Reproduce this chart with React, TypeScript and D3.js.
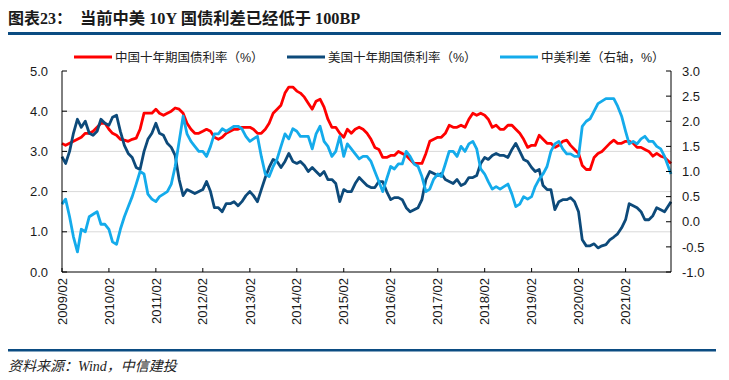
import React from "react";
import * as d3 from "d3";

// Monthly observations, 2009-02 … 2022-01 (last point ≈ 2022-01-20)
const START_YEAR = 2009;
const START_MONTH = 1; // February (0-based)
const END_DATE = new Date(2022, 0, 20);

const cn10y = [
  3.2, 3.15, 3.2, 3.25, 3.3, 3.35, 3.45, 3.45, 3.5, 3.6, 3.7,
  3.7, 3.55, 3.45, 3.4, 3.3, 3.28, 3.25, 3.3, 3.33, 3.55, 3.95, 3.95,
  3.95, 4.05, 3.95, 3.9, 3.95, 4.0, 4.08, 4.05, 3.95, 3.7, 3.55, 3.45,
  3.45, 3.5, 3.55, 3.5, 3.35, 3.3, 3.35, 3.45, 3.5, 3.55, 3.55, 3.6,
  3.6, 3.6, 3.55, 3.45, 3.45, 3.55, 3.7, 3.95, 4.05, 4.15, 4.45, 4.6,
  4.6, 4.5, 4.45, 4.35, 4.2, 4.05, 4.25, 4.3, 4.1, 3.8, 3.6, 3.6,
  3.45, 3.35, 3.55, 3.45, 3.55, 3.6, 3.55, 3.45, 3.3, 3.1, 3.05, 2.85,
  2.85, 2.9, 2.9, 3.0, 2.95, 2.9, 2.8, 2.7, 2.7, 2.7, 2.95, 3.25,
  3.3, 3.35, 3.35, 3.45, 3.65, 3.6, 3.6, 3.65, 3.6, 3.8, 3.95, 3.9,
  3.95, 3.9, 3.8, 3.6, 3.65, 3.55, 3.55, 3.65, 3.65, 3.55, 3.45, 3.3,
  3.1, 3.15, 3.15, 3.4, 3.3, 3.2, 3.2, 3.1, 3.15, 3.25, 3.28, 3.15,
  3.05, 2.95, 2.65, 2.55, 2.55, 2.85, 2.95, 3.0, 3.1, 3.2, 3.28, 3.2,
  3.2, 3.25, 3.25, 3.2, 3.1, 3.1, 3.05, 3.0, 2.88, 2.95, 2.88, 2.85,
  2.7,
];

const us10y = [
  2.87, 2.7, 3.0, 3.45, 3.8, 3.6, 3.75, 3.45, 3.4, 3.5, 3.8,
  3.7, 3.65, 3.85, 3.9, 3.5, 3.15, 2.95, 2.85, 2.6, 2.55, 3.0, 3.3,
  3.45, 3.7, 3.45, 3.4, 3.2, 3.1, 2.9, 2.3, 1.9, 2.05, 2.0, 1.95,
  2.0, 2.05, 2.25, 2.0, 1.6, 1.6, 1.5, 1.7, 1.7, 1.75, 1.65, 1.75,
  1.9, 2.0, 1.9, 1.75, 2.05, 2.35, 2.6, 2.8, 2.75, 2.6, 2.75, 2.95,
  2.75, 2.7, 2.75, 2.65, 2.5, 2.6, 2.5, 2.4, 2.5, 2.3, 2.3, 2.2,
  1.75, 2.05, 2.0, 2.0, 2.2, 2.35, 2.25, 2.15, 2.1, 2.1, 2.25, 2.25,
  2.0, 1.8, 1.85, 1.85, 1.8, 1.6, 1.5, 1.55, 1.6, 1.8, 2.3, 2.5,
  2.45, 2.4, 2.45, 2.3, 2.25, 2.2, 2.3, 2.15, 2.2, 2.35, 2.35, 2.4,
  2.7, 2.85, 2.8, 2.9, 2.95, 2.9, 2.9, 2.85, 3.05, 3.2, 3.0, 2.8,
  2.75, 2.6, 2.5, 2.55, 2.15, 2.05, 2.05, 1.55, 1.75, 1.8, 1.8, 1.85,
  1.75, 1.5, 0.8, 0.65, 0.65, 0.7, 0.6, 0.65, 0.68, 0.8, 0.87, 0.95,
  1.1, 1.3, 1.7, 1.65, 1.6, 1.5, 1.3, 1.3, 1.4, 1.6, 1.55, 1.5,
  1.75,
];

const spread = [
  0.35, 0.45, 0.1, -0.3, -0.6, -0.15, -0.2, 0.1, 0.15, 0.2, -0.05,
  -0.05, -0.15, -0.4, -0.45, -0.15, 0.1, 0.3, 0.5, 0.75, 1.0, 0.95, 0.55,
  0.45, 0.4, 0.5, 0.55, 0.6, 0.75, 1.1, 1.6, 2.1, 1.75, 1.6, 1.5,
  1.4, 1.4, 1.3, 1.5, 1.75, 1.75, 1.85, 1.8, 1.85, 1.9, 1.9, 1.85,
  1.7, 1.6, 1.65, 1.7, 1.3, 0.95, 0.9, 1.1, 1.25, 1.5, 1.75, 1.65,
  1.85, 1.8, 1.7, 1.7, 1.7, 1.45, 1.75, 1.9, 1.6, 1.5, 1.3, 1.4,
  1.7, 1.3, 1.55, 1.45, 1.35, 1.25, 1.3, 1.3, 1.2, 1.0, 0.8, 0.6,
  0.85, 1.1, 1.05, 1.15, 1.15, 1.4, 1.3, 1.15, 1.1, 0.9, 0.6, 0.65,
  0.85, 0.95, 0.9, 1.15, 1.4, 1.4, 1.3, 1.5, 1.4, 1.55, 1.6, 1.45,
  1.05, 0.95, 0.8, 0.65, 0.7, 0.65, 0.7, 0.75, 0.55, 0.3, 0.35, 0.5,
  0.45, 0.5, 0.7, 0.85, 0.95, 1.1, 1.4, 1.55, 1.6, 1.45, 1.35, 1.35,
  1.3, 1.3, 1.9, 2.0, 2.05, 2.2, 2.35, 2.4, 2.45, 2.45, 2.45, 2.3,
  2.1, 1.8, 1.55, 1.6, 1.55, 1.65, 1.7, 1.6, 1.6, 1.5, 1.45, 1.3,
  0.95,
];

const xTickYears = [2009, 2010, 2011, 2012, 2013, 2014, 2015, 2016, 2017, 2018, 2019, 2020, 2021];
const leftTicks = [0, 1, 2, 3, 4, 5];
const rightTicks = [-1, -0.5, 0, 0.5, 1, 1.5, 2, 2.5, 3];

const seriesNames = ["中国十年期国债利率（%）", "美国十年期国债利率（%）", "中美利差（右轴，%）"];
const seriesColors = ["#FF0000", "#0D4A7A", "#14ABEB"];

const TITLE_A = "图表23：";
const TITLE_B = "当前中美 10Y 国债利差已经低于 100BP";
const SOURCE = "资料来源：Wind，中信建投";

const W = 729;
const H = 380;
const PL = 62, PR = 671, PT = 71, PB = 272;

export default function App() {
  const dates = cn10y.map((_, i) =>
    i === cn10y.length - 1 ? END_DATE : new Date(START_YEAR, START_MONTH + i, 1)
  );
  const x = d3.scaleTime().domain([new Date(START_YEAR, START_MONTH, 1), END_DATE]).range([PL, PR]);
  const yL = d3.scaleLinear().domain([0, 5]).range([PB, PT]);
  const yR = d3.scaleLinear().domain([-1, 3]).range([PB, PT]);

  const lineL = d3.line<number>().x((_, i) => x(dates[i])).y((d) => yL(d));
  const lineR = d3.line<number>().x((_, i) => x(dates[i])).y((d) => yR(d));

  const axisFont = "'Liberation Sans', Arial, sans-serif";
  const cjkFont = "'Liberation Sans', Arial, 'Noto Sans CJK SC', sans-serif";
  const serifFont = "'Liberation Serif', 'Times New Roman', 'Noto Sans CJK SC', serif";

  const legendX = [74, 287, 500];
  const legendY = 57;

  return (
    <svg width={W} height={H} style={{ position: "absolute", left: 0, top: 0, display: "block", background: "#fff" }}>
      {/* title */}
      <text x={8} y={24} fontFamily={serifFont} fontWeight="bold" fontSize={16} fill="#1a1a1a">
        {TITLE_A}
      </text>
      <text x={80} y={24} fontFamily={serifFont} fontWeight="bold" fontSize={16.3} fill="#1a1a1a">
        {TITLE_B}
      </text>
      <rect x={8} y={32} width={713} height={3} fill="#0B4C82" />

      {/* legend */}
      {seriesNames.map((n, i) => (
        <g key={n}>
          <line x1={legendX[i]} x2={legendX[i] + 38} y1={legendY} y2={legendY} stroke={seriesColors[i]} strokeWidth={3.2} />
          <text x={legendX[i] + 41} y={legendY} dy="0.36em" fontFamily={cjkFont} fontSize={12.5} fill="#222">
            {n}
          </text>
        </g>
      ))}

      {/* gridlines */}
      {leftTicks.filter((t) => t > 0 && t < 5).map((t) => (
        <line key={"g" + t} x1={PL} x2={PR} y1={yL(t)} y2={yL(t)} stroke="#D9D9D9" strokeWidth={1} />
      ))}

      {/* series */}
      <path d={lineL(cn10y) || ""} fill="none" stroke={seriesColors[0]} strokeWidth={2.8} strokeLinejoin="round" />
      <path d={lineL(us10y) || ""} fill="none" stroke={seriesColors[1]} strokeWidth={2.8} strokeLinejoin="round" />
      <path d={lineR(spread) || ""} fill="none" stroke={seriesColors[2]} strokeWidth={2.8} strokeLinejoin="round" />

      {/* axes */}
      <line x1={PL} x2={PL} y1={PT} y2={PB} stroke="#000" strokeWidth={1} />
      <line x1={PR} x2={PR} y1={PT} y2={PB} stroke="#000" strokeWidth={1} />
      <line x1={PL} x2={PR} y1={PB} y2={PB} stroke="#000" strokeWidth={1} />

      {leftTicks.map((t) => (
        <g key={"l" + t}>
          <line x1={PL} x2={PL + 5} y1={yL(t)} y2={yL(t)} stroke="#000" />
          <text x={48} y={yL(t)} dy="0.36em" textAnchor="end" fontFamily={axisFont} fontSize={13} fill="#1a1a1a">
            {t.toFixed(1)}
          </text>
        </g>
      ))}
      {rightTicks.map((t) => (
        <g key={"r" + t}>
          <line x1={PR - 5} x2={PR} y1={yR(t)} y2={yR(t)} stroke="#000" />
          <text x={682} y={yR(t)} dy="0.36em" textAnchor="start" fontFamily={axisFont} fontSize={13} fill="#1a1a1a">
            {t.toFixed(1)}
          </text>
        </g>
      ))}
      {xTickYears.map((yr) => {
        const xx = x(new Date(yr, 1, 1));
        return (
          <g key={"x" + yr}>
            <line x1={xx} x2={xx} y1={PB - 4} y2={PB} stroke="#000" />
            <text
              transform={`translate(${xx},${PB + 6}) rotate(-90)`}
              dy="0.36em"
              textAnchor="end"
              fontFamily={axisFont}
              fontSize={13}
              fill="#1a1a1a"
            >
              {`${yr}/02`}
            </text>
          </g>
        );
      })}

      {/* footer */}
      <rect x={8} y={349} width={708} height={2.5} fill="#0B4C82" />
      <text x={8} y={371} fontFamily={serifFont} fontStyle="italic" fontSize={14} fill="#222">
        {SOURCE}
      </text>
    </svg>
  );
}
